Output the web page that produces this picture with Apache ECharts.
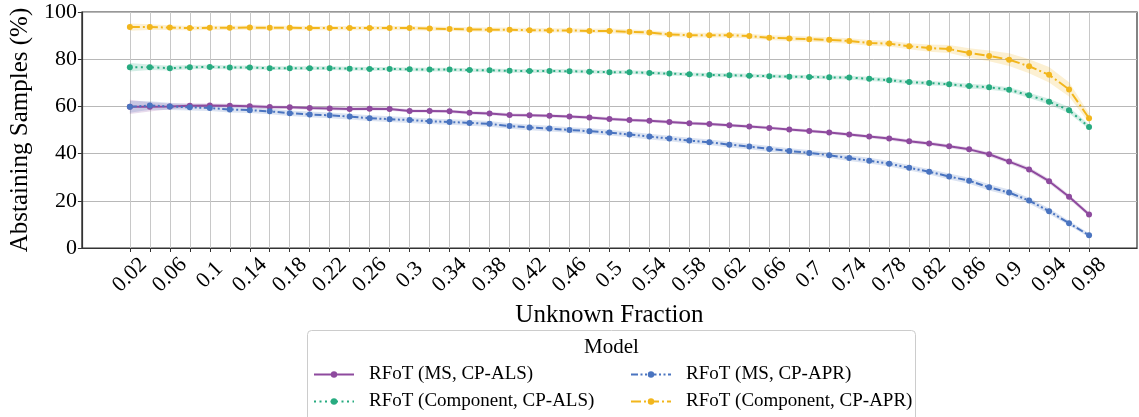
<!DOCTYPE html>
<html>
<head>
<meta charset="utf-8">
<script src="https://cdn.jsdelivr.net/npm/echarts@6/dist/echarts.min.js"></script>
<style>
  html, body { margin: 0; padding: 0; background: #fff; }
  #chart { width: 1139px; height: 417px; }
</style>
</head>
<body>
<div id="chart"></div>
<script>
// unknown fraction (x positions)
const fractions = [0.02, 0.04, 0.06, 0.08, 0.1, 0.12, 0.14, 0.16, 0.18, 0.2,
  0.22, 0.24, 0.26, 0.28, 0.3, 0.32, 0.34, 0.36, 0.38, 0.4,
  0.42, 0.44, 0.46, 0.48, 0.5, 0.52, 0.54, 0.56, 0.58, 0.6,
  0.62, 0.64, 0.66, 0.68, 0.7, 0.72, 0.74, 0.76, 0.78, 0.8,
  0.82, 0.84, 0.86, 0.88, 0.9, 0.92, 0.94, 0.96, 0.98]
// labelled ticks (every other fraction)
const tickLabels = fractions.filter((v, i) => i % 2 === 0)

const msAls = [59.8, 59.8, 60.0, 60.3, 60.4, 60.3, 60.1, 59.7, 59.6, 59.3, 59.1, 58.9,
  59.0, 58.9, 58.1, 58.0, 57.9, 57.3, 57.0, 56.4, 56.2, 56.0, 55.7, 55.3, 54.7, 54.2,
  53.9, 53.4, 52.9, 52.5, 52.0, 51.5, 50.9, 50.2, 49.6, 48.9, 48.1, 47.2,
  46.4, 45.2, 44.3, 43.1, 41.8, 39.7, 36.6, 33.3, 28.3, 21.7, 14.2]
const msApr = [59.8, 60.4, 60.0, 59.6, 59.3, 58.7, 58.4, 57.9, 57.1, 56.6, 56.2, 55.7,
  55.0, 54.6, 54.2, 53.7, 53.4, 53.0, 52.6, 51.7, 51.1, 50.6, 50.0, 49.5, 48.9, 48.1,
  47.2, 46.4, 45.5, 44.8, 43.8, 43.0, 42.0, 41.1, 40.3, 39.3, 38.1, 37.0,
  35.7, 34.0, 32.3, 30.3, 28.5, 25.7, 23.5, 20.1, 15.6, 10.5, 5.4]
const compAls = [76.6, 76.6, 76.2, 76.6, 76.7, 76.5, 76.5, 76.2, 76.2, 76.2, 76.2, 76.0,
  75.9, 75.9, 75.7, 75.6, 75.6, 75.4, 75.3, 75.1, 75.0, 75.0, 74.9, 74.7, 74.5, 74.5,
  74.2, 73.9, 73.6, 73.3, 73.2, 73.0, 72.8, 72.6, 72.5, 72.3, 72.2, 71.7,
  71.1, 70.3, 69.9, 69.4, 68.6, 68.1, 67.1, 64.7, 62.0, 58.4, 51.3]
const compApr = [93.6, 93.6, 93.4, 93.2, 93.3, 93.3, 93.4, 93.3, 93.3, 93.2, 93.2, 93.2,
  93.2, 93.2, 93.2, 93.0, 92.8, 92.6, 92.5, 92.5, 92.3, 92.2, 92.2, 92.0, 92.0, 91.6,
  91.3, 90.5, 90.2, 90.2, 90.2, 89.8, 89.1, 88.8, 88.5, 88.2, 87.7, 86.9,
  86.6, 85.5, 84.7, 84.3, 82.6, 81.4, 79.8, 77.0, 73.4, 67.2, 55.0]

// confidence band half widths
const msAlsCI = [3.0, 2.0, 1.2, 1.0, 0.8, 0.8, 0.8, 0.8, 0.7, 0.7, 0.7, 0.7,
  0.7, 0.7, 0.7, 0.7, 0.7, 0.7, 0.7, 0.7, 0.7, 0.7, 0.7, 0.7, 0.7, 0.7,
  0.7, 0.7, 0.7, 0.7, 0.7, 0.7, 0.7, 0.7, 0.7, 0.7, 0.7, 0.7,
  0.8, 0.8, 0.8, 0.8, 0.8, 0.9, 0.9, 1.0, 1.0, 1.0, 1.0]
const msAprCI = [2.5, 1.8, 1.5, 1.3, 1.3, 1.3, 1.2, 1.2, 1.2, 1.2, 1.2, 1.2,
  1.2, 1.2, 1.2, 1.2, 1.2, 1.2, 1.2, 1.2, 1.2, 1.2, 1.2, 1.2, 1.2, 1.2,
  1.2, 1.2, 1.2, 1.2, 1.2, 1.2, 1.2, 1.2, 1.2, 1.2, 1.2, 1.2,
  1.2, 1.2, 1.2, 1.3, 1.3, 1.3, 1.3, 1.2, 1.2, 1.0, 0.8]
const compAlsCI = [1.8, 1.2, 1.0, 0.9, 0.9, 0.8, 0.8, 0.8, 0.8, 0.8, 0.8, 0.8,
  0.8, 0.8, 0.8, 0.8, 0.8, 0.8, 0.8, 0.8, 0.8, 0.8, 0.8, 0.8, 0.8, 0.8,
  0.8, 0.8, 0.8, 0.8, 0.8, 0.8, 0.8, 0.8, 0.8, 0.8, 0.8, 0.9,
  0.9, 0.9, 0.9, 0.9, 1.0, 1.0, 1.0, 1.1, 1.2, 1.3, 1.0]
const compAprCI = [1.5, 1.2, 1.0, 0.9, 0.9, 0.9, 0.9, 0.9, 0.9, 0.9, 0.9, 0.9,
  0.9, 0.9, 0.9, 0.9, 0.9, 0.9, 0.9, 0.9, 0.9, 0.9, 0.9, 0.9, 1.0, 1.0,
  1.0, 1.0, 1.0, 1.0, 1.0, 1.0, 1.0, 1.1, 1.1, 1.1, 1.2, 1.2,
  1.2, 1.3, 1.5, 1.7, 2.0, 2.3, 2.7, 3.0, 3.3, 3.0, 2.0]

const FONT = 'Liberation Serif'

const models = [
  { name: 'RFoT (MS, CP-ALS)', data: msAls, ci: msAlsCI, color: '#8e4a9e', dash: 'solid' },
  { name: 'RFoT (MS, CP-APR)', data: msApr, ci: msAprCI, color: '#4a74c0', dash: [7, 2.5, 2, 2.5, 2, 2.5] },
  { name: 'RFoT (Component, CP-ALS)', data: compAls, ci: compAlsCI, color: '#27ab80', dash: [2, 3.5] },
  { name: 'RFoT (Component, CP-APR)', data: compApr, ci: compAprCI, color: '#f2b61c', dash: [10, 3, 2, 3] }
]

function alpha (hex, a) {
  const n = parseInt(hex.slice(1), 16)
  return 'rgba(' + (n >> 16) + ',' + ((n >> 8) & 255) + ',' + (n & 255) + ',' + a + ')'
}

const series = []
models.forEach(function (m) {
    // shaded confidence band, drawn once as a polygon
    series.push({
        type: 'custom',
        silent: true,
        z: 1,
        data: fractions.map((x, i) => [x, m.data[i] - m.ci[i], m.data[i] + m.ci[i]]),
        encode: { x: 0, y: [1, 2] },
        renderItem: function (params, api) {
            if (params.dataIndex !== 0) return null
            const upper = []
            const lower = []
            for (let i = 0; i < fractions.length; i++) {
                upper.push(api.coord([fractions[i], m.data[i] + m.ci[i]]))
                lower.unshift(api.coord([fractions[i], m.data[i] - m.ci[i]]))
            }
            return {
                type: 'polygon',
                shape: { points: upper.concat(lower) },
                style: { fill: alpha(m.color, 0.2) }
            }
        }
    })
})
models.forEach(function (m) {
    series.push({
        type: 'line',
        name: m.name,
        symbol: 'circle',
        symbolSize: 6,
        showSymbol: true,
        itemStyle: { color: m.color },
        lineStyle: { color: m.color, width: 2, type: m.dash },
        data: fractions.map((x, i) => [x, m.data[i]]),
        z: 3
    })
})

const legendCommon = {
    orient: 'vertical',
    top: 360,
    height: 60,
    itemWidth: 40,
    itemHeight: 8,
    itemGap: 8,
    textStyle: { fontFamily: FONT, fontSize: 19, color: '#000', padding: [0, 0, 0, 10] }
}

const chart = echarts.init(document.getElementById('chart'))
chart.setOption({
    animation: false,
    backgroundColor: '#fff',
    textStyle: { fontFamily: FONT },
    grid: {
        left: 80, right: 2, top: 12, bottom: 169,
        show: true,
        borderColor: '#333',
        borderWidth: 1.2
    },
    xAxis: {
        type: 'value',
        min: -0.028,
        max: 1.028,
        name: 'Unknown Fraction',
        nameLocation: 'middle',
        nameGap: 51,
        nameTextStyle: { fontFamily: FONT, fontSize: 25, color: '#000' },
        axisLine: { show: true, onZero: false, lineStyle: { color: '#333', width: 1.2 } },
        axisTick: { show: true, customValues: fractions, length: 4, lineStyle: { color: '#333' } },
        axisLabel: {
            customValues: tickLabels,
            rotate: 45,
            align: 'center',
            verticalAlign: 'middle',
            fontFamily: FONT,
            fontSize: 22,
            color: '#000',
            margin: 27,
            formatter: v => String(+(+v).toFixed(2))
        },
        splitLine: { show: true, lineStyle: { color: '#c8c8c8', width: 1 } }
    },
    yAxis: {
        type: 'value',
        min: 0,
        max: 100,
        interval: 20,
        name: 'Abstaining Samples (%)',
        nameLocation: 'middle',
        nameGap: 39,
        nameTextStyle: { fontFamily: FONT, fontSize: 25, color: '#000' },
        axisLine: { show: true, onZero: false, lineStyle: { color: '#333', width: 1.2 } },
        axisTick: { show: true, length: 4, lineStyle: { color: '#333' } },
        axisLabel: { fontFamily: FONT, fontSize: 22, color: '#000', margin: 5 },
        splitLine: { show: true, lineStyle: { color: '#b8b8b8', width: 1 } }
    },
    legend: [
        Object.assign({}, legendCommon, {
            left: 308,
            data: ['RFoT (MS, CP-ALS)', 'RFoT (Component, CP-ALS)']
        }),
        Object.assign({}, legendCommon, {
            left: 625,
            data: ['RFoT (MS, CP-APR)', 'RFoT (Component, CP-APR)']
        })
    ],
    graphic: [
        {
            type: 'rect',
            left: 307,
            top: 330,
            z: -1,
            shape: { width: 608, height: 100, r: 4 },
            style: { fill: '#fff', stroke: '#cccccc', lineWidth: 1 }
        },
        {
            type: 'text',
            left: 584,
            top: 337,
            style: { text: 'Model', fontFamily: FONT, fontSize: 21, fill: '#000' }
        }
    ],
    series: series
})
</script>
</body>
</html>
